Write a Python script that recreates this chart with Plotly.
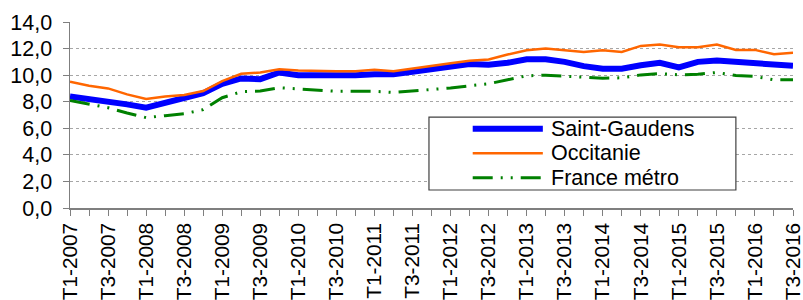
import plotly.graph_objects as go

quarters = [
    "T1-2007", "T2-2007", "T3-2007", "T4-2007",
    "T1-2008", "T2-2008", "T3-2008", "T4-2008",
    "T1-2009", "T2-2009", "T3-2009", "T4-2009",
    "T1-2010", "T2-2010", "T3-2010", "T4-2010",
    "T1-2011", "T2-2011", "T3-2011", "T4-2011",
    "T1-2012", "T2-2012", "T3-2012", "T4-2012",
    "T1-2013", "T2-2013", "T3-2013", "T4-2013",
    "T1-2014", "T2-2014", "T3-2014", "T4-2014",
    "T1-2015", "T2-2015", "T3-2015", "T4-2015",
    "T1-2016", "T2-2016", "T3-2016",
]

saint_gaudens = [8.4, 8.2, 8.1, 7.8, 7.55, 7.9, 8.3, 8.65, 9.35, 9.75,
                 9.7, 10.2, 10.0, 9.97, 9.92, 10.0, 10.07, 10.07, 10.25, 10.45,
                 10.6, 10.83, 10.78, 10.93, 11.2, 11.2, 11.0, 10.68, 10.48,
                 10.48, 10.75, 10.93, 10.58, 11.0, 11.1, 11.0, 11.0, 10.8, 10.7]

occitanie = [9.5, 9.2, 9.0, 8.55, 8.2, 8.4, 8.5, 8.8, 9.55, 10.1,
             10.2, 10.45, 10.35, 10.3, 10.3, 10.3, 10.4, 10.3, 10.5, 10.75,
             10.9, 11.08, 11.18, 11.55, 11.88, 12.0, 11.9, 11.75, 11.88,
             11.75, 12.2, 12.3, 12.1, 12.1, 12.3, 11.9, 11.9, 11.58, 11.68]

france_metro = [8.1, 7.8, 7.55, 7.15, 6.8, 6.95, 7.1, 7.4, 8.3, 8.75,
                8.8, 9.05, 8.95, 8.85, 8.78, 8.78, 8.78, 8.7, 8.8, 8.95,
                9.03, 9.2, 9.35, 9.65, 9.95, 10.0, 9.92, 9.8, 9.77,
                9.8, 10.02, 10.12, 10.02, 10.07, 10.2, 9.97, 9.9, 9.65, 9.65]

series_names = ["Saint-Gaudens", "Occitanie", "France métro"]
series_values = [saint_gaudens, occitanie, france_metro]
series_colors = ["#0000FF", "#FF6600", "#008000"]
series_widths = [6, 2.5, 3]
series_dash = ["solid", "solid", "20px,8px,2px,8px,2px,8px"]

y_ticks = [0, 2, 4, 6, 8, 10, 12, 14]
y_tick_labels = ["0,0", "2,0", "4,0", "6,0", "8,0", "10,0", "12,0", "14,0"]

font_family = "Liberation Sans, Arial, sans-serif"
fs = 21.5
fs_x = 20.8

fig = go.Figure()
for name, vals, col, w, d in zip(series_names, series_values, series_colors,
                                 series_widths, series_dash):
    fig.add_trace(go.Scatter(x=quarters, y=vals, mode="lines", name=name,
                             line=dict(color=col, width=w, dash=d),
                             showlegend=False))

# Legend box drawn like the original (long line samples)
shapes = [dict(type="rect", xref="paper", yref="paper",
               x0=0.4965, x1=0.921, y0=0.0968, y1=0.489,
               line=dict(color="#404040", width=1.2), fillcolor="white",
               layer="above")]
annotations = []
row_y = [0.426, 0.294, 0.163]
for name, col, w, d, ry in zip(series_names, series_colors, series_widths,
                               series_dash, row_y):
    shapes.append(dict(type="line", xref="paper", yref="paper",
                       x0=0.557, x1=0.654, y0=ry, y1=ry,
                       line=dict(color=col, width=w, dash=d), layer="above"))
    annotations.append(dict(xref="paper", yref="paper", x=0.663, y=ry,
                            xanchor="left", yanchor="middle", text=name,
                            showarrow=False,
                            font=dict(size=fs, family=font_family, color="black")))

fig.update_layout(
    width=803, height=300,
    margin=dict(l=70, r=10, t=22, b=92),
    paper_bgcolor="white", plot_bgcolor="white",
    font=dict(family=font_family, size=fs, color="black"),
    showlegend=False,
    shapes=shapes,
    annotations=annotations,
)

fig.update_xaxes(
    type="category",
    range=[0, len(quarters) - 1],
    tickmode="array",
    tickvals=quarters,
    ticktext=[q if i % 2 == 0 else "" for i, q in enumerate(quarters)],
    tickangle=-90,
    ticks="outside", ticklen=6, tickcolor="#7F7F7F", tickwidth=1,
    ticklabelstandoff=-1,
    showline=True, linecolor="#7F7F7F", linewidth=1.5,
    showgrid=False, zeroline=False,
    tickfont=dict(size=fs_x, family=font_family, color="black"),
    automargin=False,
)

fig.update_yaxes(
    range=[0, 14],
    tickmode="array",
    tickvals=y_ticks,
    ticktext=y_tick_labels,
    ticks="outside", ticklen=6, tickcolor="#7F7F7F", tickwidth=1,
    ticklabelstandoff=6,
    showline=True, linecolor="#7F7F7F", linewidth=1.5,
    showgrid=True, gridcolor="#A6A6A6", gridwidth=1, griddash="dot",
    zeroline=False,
    tickfont=dict(size=fs, family=font_family, color="black"),
    automargin=False,
)

fig.write_html("out.html",
               config={"displayModeBar": False, "staticPlot": True},
               post_script="document.body.style.margin='0';document.body.style.overflow='hidden';")
